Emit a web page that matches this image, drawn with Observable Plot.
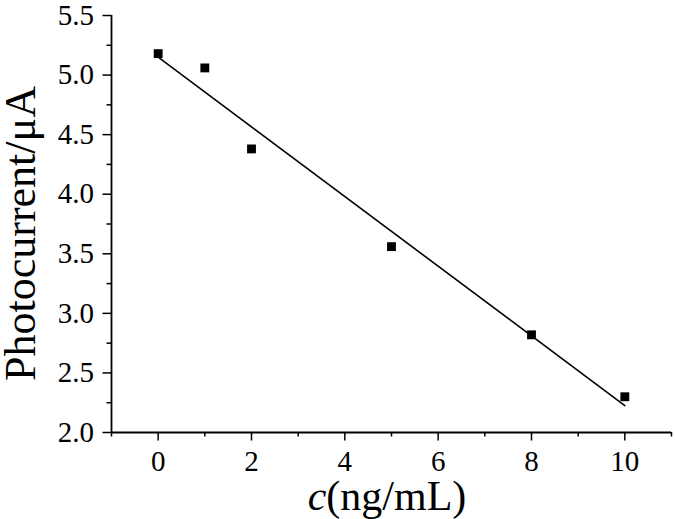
<!DOCTYPE html>
<html>
<head>
<meta charset="utf-8">
<script src="https://cdn.jsdelivr.net/npm/d3@7"></script>
<script src="https://cdn.jsdelivr.net/npm/@observablehq/plot@0.6"></script>
<style>
  html, body { margin: 0; padding: 0; background: white; }
</style>
</head>
<body>
<div id="chart"></div>
<script>
// Data
const concentration = [0, 1, 2, 5, 8, 10];          // c (ng/mL)
const photocurrent  = [5.18, 5.06, 4.38, 3.56, 2.82, 2.30]; // µA

const xMajorTicks = [0, 2, 4, 6, 8, 10];
const xMinorTicks = [-1, 1, 3, 5, 7, 9, 11];
const yMajorTicks = [2.0, 2.5, 3.0, 3.5, 4.0, 4.5, 5.0, 5.5];
const yMinorTicks = [2.25, 2.75, 3.25, 3.75, 4.25, 4.75, 5.25];

const xLabelItalic = "c";
const xLabelRest = "(ng/mL)";
const yLabel = "Photocurrent/\u03bcA";

const data = concentration.map((c, i) => ({c, p: photocurrent[i]}));

const font = "'Liberation Serif', 'Times New Roman', Times, serif";

const chart = Plot.plot({
  width: 675,
  height: 519,
  marginLeft: 111,
  marginRight: 4,
  marginTop: 15,
  marginBottom: 87,
  style: {fontFamily: font, background: "white", color: "black", overflow: "visible"},
  x: {domain: [-1, 11]},
  y: {domain: [2, 5.5]},
  marks: [
    Plot.axisX(xMinorTicks, {tickSize: 4.5, strokeWidth: 1.5, tickFormat: () => "", label: null}),
    Plot.axisX(xMajorTicks, {tickSize: 8.5, strokeWidth: 1.5, tickPadding: 9, fontSize: 29,
      tickFormat: d => String(d), label: xLabelItalic + xLabelRest, labelAnchor: "center", labelOffset: 80}),
    Plot.axisY(yMinorTicks, {tickSize: 4.5, strokeWidth: 1.5, tickFormat: () => "", label: null}),
    Plot.axisY(yMajorTicks, {tickSize: 8.5, strokeWidth: 1.5, tickPadding: 9, fontSize: 29,
      tickFormat: d3.format(".1f"), label: yLabel, labelAnchor: "center", labelOffset: 100}),
    Plot.ruleY([2], {stroke: "black", strokeWidth: 1.8}),
    Plot.ruleX([-1], {stroke: "black", strokeWidth: 1.8}),
    Plot.linearRegressionY(data, {x: "c", y: "p", ci: 0, stroke: "black", strokeWidth: 1.6}),
    Plot.dot(data, {x: "c", y: "p", symbol: "square", fill: "black", stroke: "none", r: 5})
  ]
});

const svg = d3.select(chart);
const xr = chart.scale("x").range;
const yr = chart.scale("y").range;

// Axis titles: italic "c", larger type, positioned like the reference
svg.selectAll("g[aria-label='x-axis label']").attr("transform", null).each(function() {
  d3.select(this).selectAll("text").each(function() {
    const t = d3.select(this);
    t.attr("font-size", 42).attr("text-anchor", "middle").attr("dy", null).attr("y", null).attr("x", null)
     .attr("transform", `translate(${(xr[0] + xr[1]) / 2 - 4},${Math.max(yr[0], yr[1]) + 78})`)
     .text(null);
    t.append("tspan").attr("font-style", "italic").text(xLabelItalic);
    t.append("tspan").text(xLabelRest);
  });
});
svg.selectAll("g[aria-label='y-axis label']").attr("transform", null).each(function() {
  d3.select(this).selectAll("text").each(function() {
    d3.select(this).attr("font-size", 44).attr("text-anchor", "middle").attr("dy", null).attr("y", null).attr("x", null)
     .attr("transform", `translate(${xr[0] - 76},${(yr[0] + yr[1]) / 2 + 10}) rotate(-90)`)
     .text(yLabel);
  });
});

document.getElementById("chart").appendChild(chart);
</script>
</body>
</html>
